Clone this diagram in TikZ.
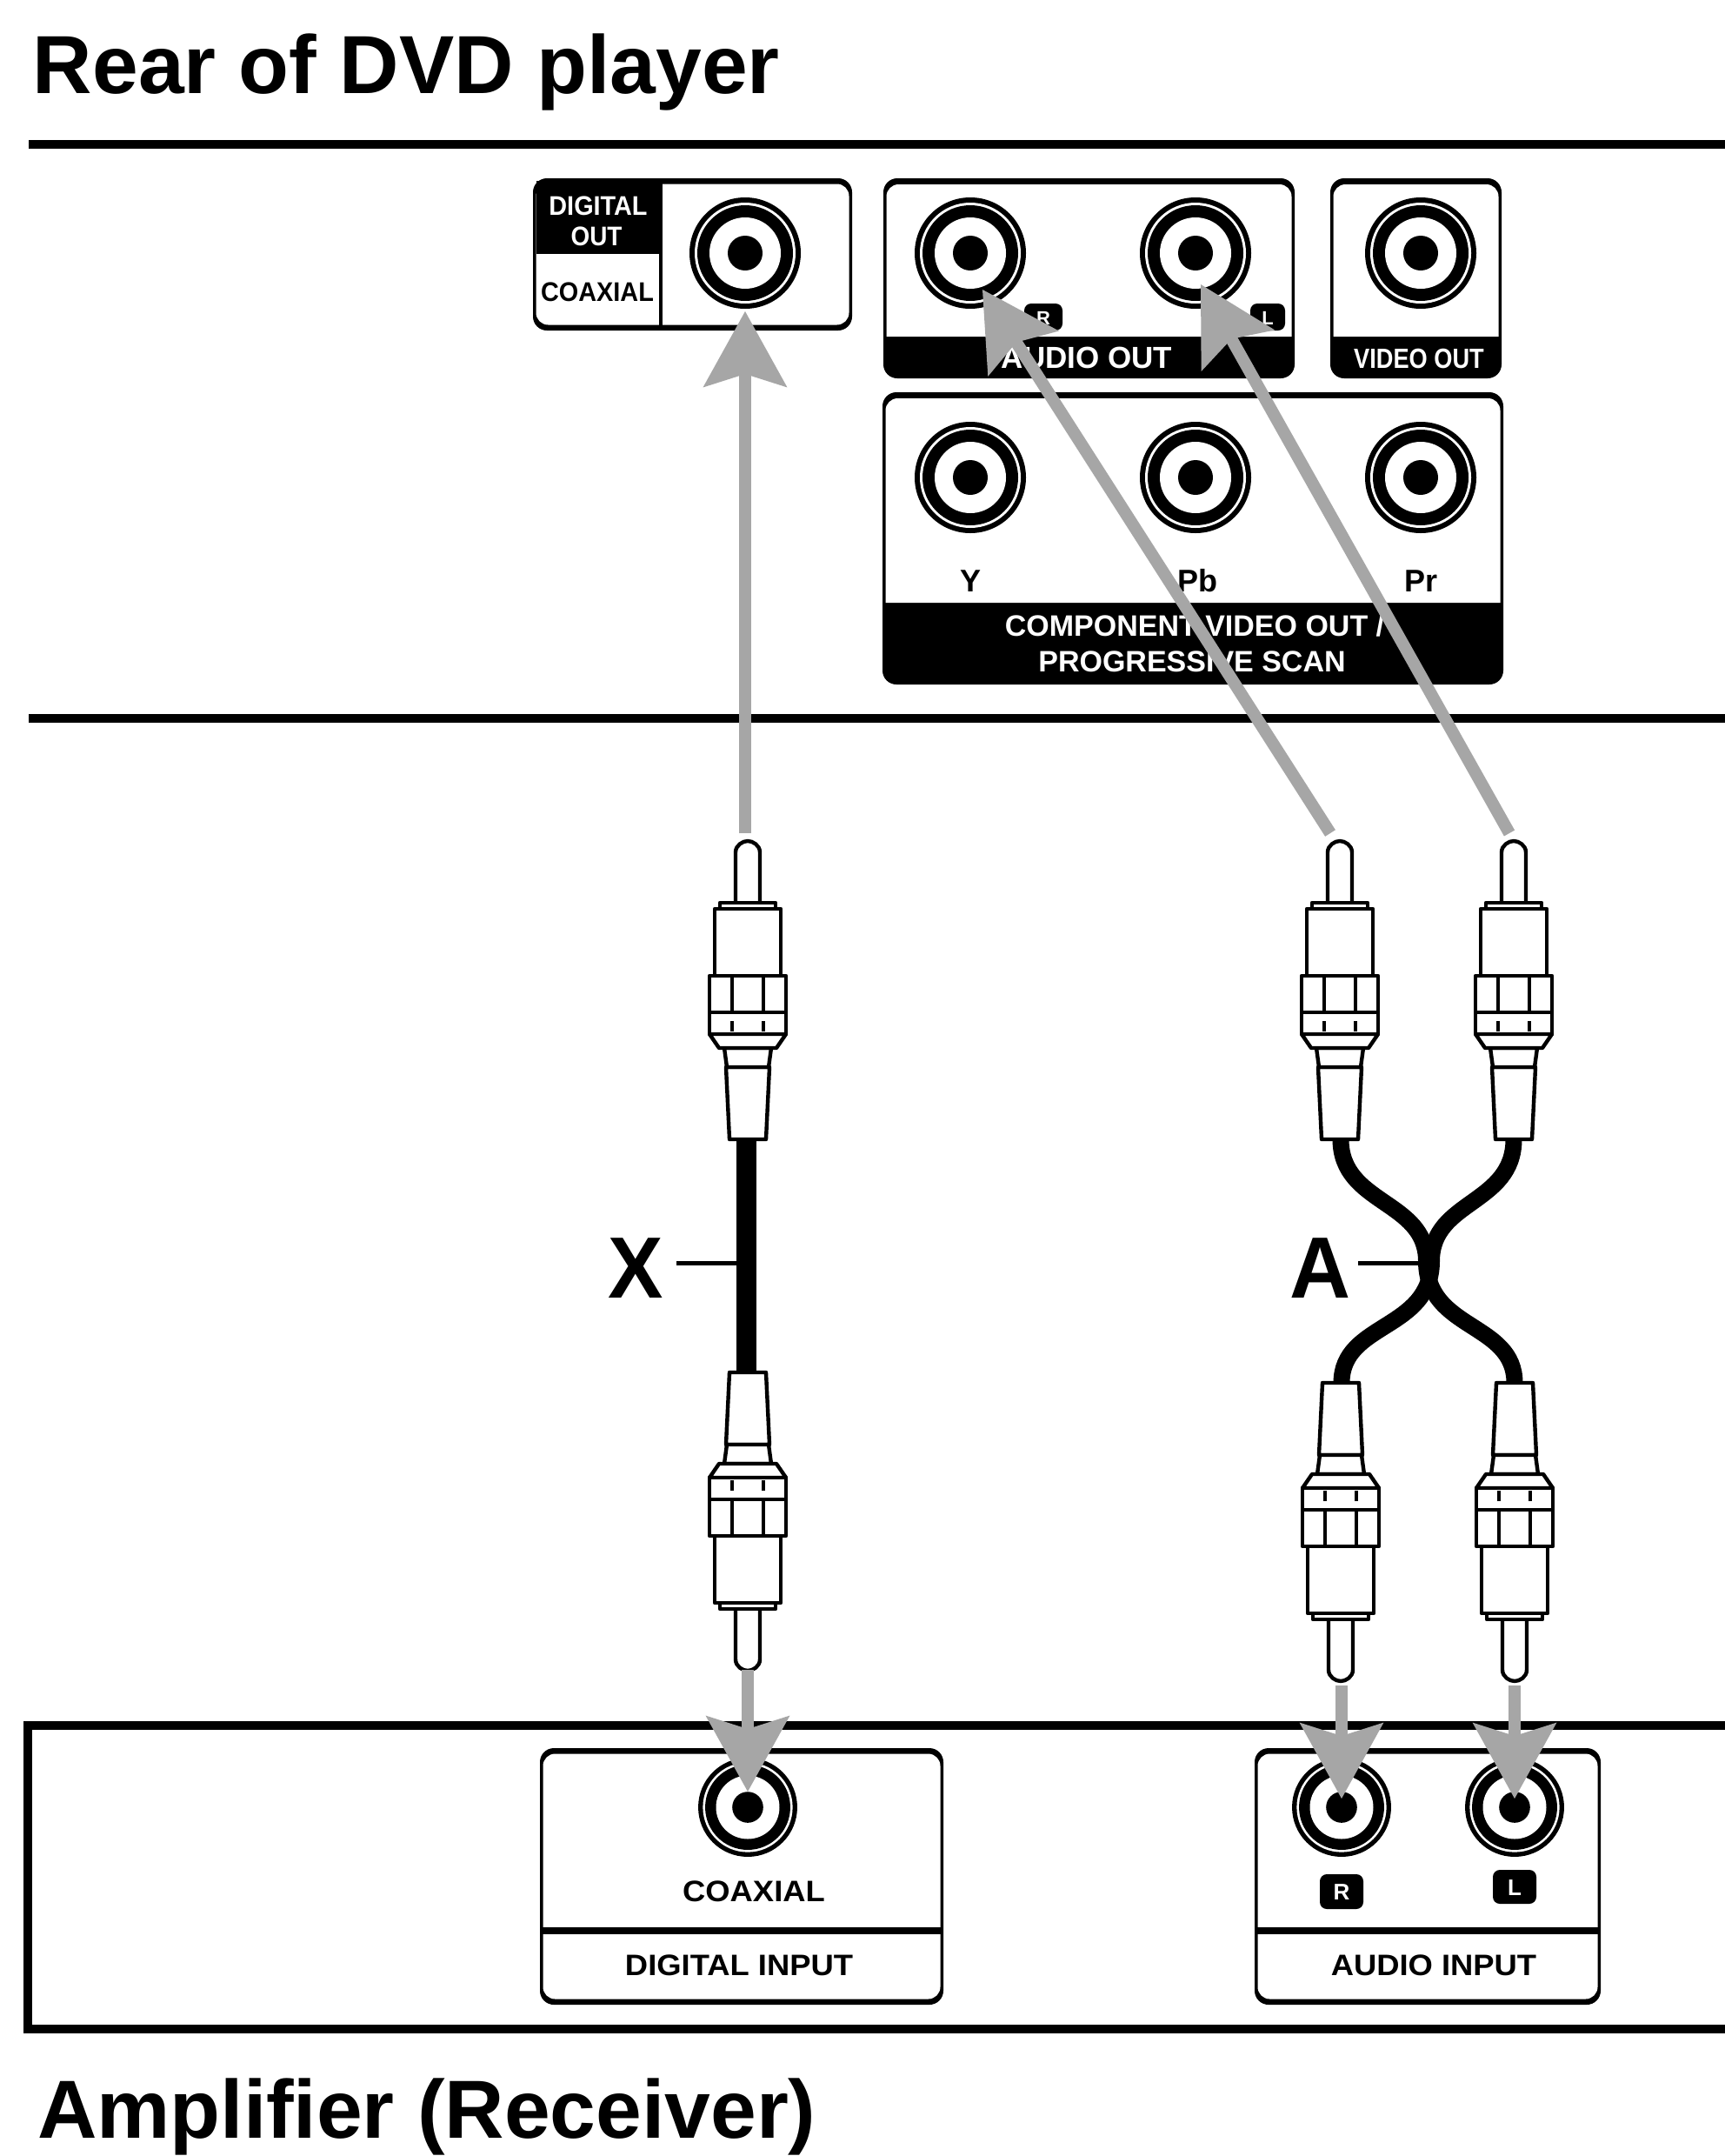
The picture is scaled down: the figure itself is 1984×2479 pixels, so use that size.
\documentclass[tikz,border=0pt]{standalone}
\usepackage{fontspec}
\usetikzlibrary{calc}
\setmainfont{Liberation Sans}
\newcommand\pxb[1]{\fontsize{#1}{#1}\bfseries\selectfont}
\definecolor{arrowgray}{HTML}{A6A6A6}
\tikzset{
  rulebar/.style={line width=5pt},
  cablex/.style={line width=11.5pt},
  cablea/.style={line width=9.5pt},
  leaderline/.style={line width=2.5pt},
  plugline/.style={line width=2.2pt,draw=black,fill=white,line join=round},
  shaftline/.style={line width=7pt,draw=arrowgray,shorten >=30pt},
  headfill/.style={fill=arrowgray},
  base/.style={anchor=base,inner sep=0pt,outer sep=0pt,transform shape},
  wtext/.style={base,text=white},
  btext/.style={base,text=black},
  badge/.style={fill=black,rounded corners=4pt},
  jackpic/.pic={
    \fill[black] (0,0) circle[radius=32pt];
    \fill[white] (0,0) circle[radius=29pt];
    \fill[black] (0,0) circle[radius=27.5pt];
    \fill[white] (0,0) circle[radius=20.5pt];
    \fill[black] (0,0) circle[radius=10pt];
  },
  plugpic/.pic={
    \path[plugline] (-14,-271) -- (-14,-330) .. controls (-14,-338) and (-6,-343) .. (0,-343)
      .. controls (6,-343) and (14,-338) .. (14,-330) -- (14,-271) -- cycle;
    \path[plugline] (-25,-83) -- (25,-83) -- (21,0) -- (-21,0) -- cycle;
    \path[plugline] (-27,-105) -- (27,-105) -- (24,-83) -- (-24,-83) -- cycle;
    \path[plugline] (-44,-121) -- (44,-121) -- (33,-105) -- (-33,-105) -- cycle;
    \path[plugline] (-44,-146) rectangle (44,-121);
    \draw[line width=1.8pt] (-18,-136) -- (-18,-124) (18,-136) -- (18,-124);
    \path[plugline] (-44,-188) rectangle (44,-146);
    \draw[line width=1.8pt] (-18,-188) -- (-18,-146) (18,-188) -- (18,-146);
    \path[plugline] (-38,-265) rectangle (38,-188);
    \path[plugline] (-32,-272) rectangle (32,-265);
  }
}
% solid panel with a black band along its foot
\newcommand\bandpanel[5]{%
  \fill[black,rounded corners=8pt] (#1,#2) rectangle (#3,#4);
  \fill[white] (#1+3.5,#5) [rounded corners=7pt] -- (#1+3.5,#2+7) -- (#3-3.5,#2+7) [sharp corners] -- (#3-3.5,#5) -- cycle;}
% panel with no band
\newcommand\plainpanel[4]{%
  \fill[black,rounded corners=8pt] (#1,#2) rectangle (#3,#4);
  \fill[white,rounded corners=7pt] (#1+3.5,#2+6.5) rectangle (#3-3.5,#4-6.5);}
% grey connector and its notched head
\newcommand\grayarrow[2]{%
  \draw[shaftline] (#1) -- (#2);
  \fill[headfill] (#2) -- ($(#2)!50pt!29:(#1)$) -- ($(#2)!36pt!(#1)$) -- ($(#2)!50pt!-29:(#1)$) -- cycle;}
\begin{document}
\begin{tikzpicture}[x=0.5pt,y=-0.5pt]
\useasboundingbox (0,0) rectangle (1984,2479);
\fill[white] (0,0) rectangle (1984,2479);

% titles
\node[btext,anchor=base west] (titleRear) at (38,107) {\pxb{47.4pt}Rear of DVD player};
\node[btext,anchor=base west] (titleAmp) at (43,2458) {\pxb{47.4pt}Amplifier (Receiver)};

% rules and amplifier frame
\draw[rulebar] (33,166) -- (1984,166);
\draw[rulebar] (33,826) -- (1984,826);
\draw[rulebar,line join=miter] (1984,1984) -- (32,1984) -- (32,2333) -- (1984,2333);

% DIGITAL OUT panel
\plainpanel{613}{205}{980}{380}
\fill[black] (617,208) -- (760,208) -- (760,292) -- (617,292) -- cycle;
\draw[line width=1.6pt] (760,208) -- (760,376);
\node[wtext,xscale=.93] (tDigital) at (688,247) {\pxb{15.5pt}DIGITAL};
\node[wtext,xscale=.9] (tOut) at (686,282) {\pxb{15.5pt}OUT};
\node[btext,xscale=.93] (tCoax) at (687,346) {\pxb{15.5pt}COAXIAL};

% AUDIO OUT, VIDEO OUT, COMPONENT panels
\bandpanel{1016}{205}{1489}{435}{387}
\bandpanel{1530}{205}{1727}{435}{387}
\bandpanel{1015}{451}{1729}{787}{693}
\node[wtext] (tAudioOut) at (1250,423) {\pxb{17.5pt}AUDIO OUT};
\node[wtext,xscale=.85] (tVideoOut) at (1632,423) {\pxb{16pt}VIDEO OUT};
\node[wtext] (tComp1) at (1374,731) {\pxb{17pt}COMPONENT VIDEO OUT /};
\node[wtext] (tComp2) at (1371,772) {\pxb{17pt}PROGRESSIVE SCAN};
\node[btext] (tY) at (1116,680) {\pxb{18pt}Y};
\node[btext] (tPb) at (1377,680) {\pxb{18pt}Pb};
\node[btext] (tPr) at (1634,680) {\pxb{18pt}Pr};
\fill[badge] (1178,349) rectangle (1222,380);
\node[wtext] (tRa) at (1200,373) {\pxb{11pt}R};
\fill[badge] (1438,349) rectangle (1478,380);
\node[wtext] (tLa) at (1458,373) {\pxb{11pt}L};

% amplifier panels
\plainpanel{621}{2010}{1085}{2305}
\fill[black] (621,2216) rectangle (1085,2224);
\plainpanel{1443}{2010}{1841}{2305}
\fill[black] (1443,2216) rectangle (1841,2224);
\node[btext,xscale=1.07] (tCoax2) at (867,2186) {\pxb{17pt}COAXIAL};
\node[btext,xscale=1.07] (tDigIn) at (850,2271) {\pxb{17pt}DIGITAL INPUT};
\node[btext,xscale=1.07] (tAudIn) at (1649,2271) {\pxb{17pt}AUDIO INPUT};
\fill[badge] (1518,2155) rectangle (1568,2195);
\node[wtext] (tRb) at (1543,2184) {\pxb{13pt}R};
\fill[badge] (1717,2150) rectangle (1767,2189);
\node[wtext] (tLb) at (1742,2179) {\pxb{13pt}L};

% jacks
\coordinate (jDO) at (857,291);
\coordinate (jAR) at (1116,291);
\coordinate (jAL) at (1375,291);
\coordinate (jV) at (1634,291);
\coordinate (jY) at (1116,549);
\coordinate (jPb) at (1375,549);
\coordinate (jPr) at (1634,549);
\coordinate (jDI) at (860,2078);
\coordinate (jIR) at (1543,2078);
\coordinate (jIL) at (1742,2078);
\foreach \j in {jDO,jAR,jAL,jV,jY,jPb,jPr} {\pic at (\j) {jackpic};}
\foreach \j in {jDI,jIR,jIL} {\pic[scale=.89] at (\j) {jackpic};}

% cables
\coordinate (cXt) at (858,1310);
\coordinate (cXb) at (858,1578);
\coordinate (cAtl) at (1542,1310);
\coordinate (cAtr) at (1741,1310);
\coordinate (cAbl) at (1543,1590);
\coordinate (cAbr) at (1742,1590);
\draw[cablex] (cXt) -- (cXb);
\draw[cablea] (cAtl) .. controls (1542,1385) and (1640.5,1380) .. (1640.5,1450)
  .. controls (1640.5,1530) and (1742,1520) .. (cAbr);
\draw[cablea] (cAtr) .. controls (1741,1385) and (1646.5,1380) .. (1646.5,1450)
  .. controls (1646.5,1530) and (1543,1520) .. (cAbl);

% plugs
\pic at (860,1310) {plugpic};
\pic[yscale=-1] at (860,1578) {plugpic};
\pic at (1541,1310) {plugpic};
\pic at (1741,1310) {plugpic};
\pic[yscale=-1] at (1542,1590) {plugpic};
\pic[yscale=-1] at (1742,1590) {plugpic};

% cable labels
\node[btext,xscale=.95] (lX) at (731,1492) {\pxb{50pt}X};
\node[btext,xscale=.97] (lA) at (1519,1492) {\pxb{50pt}A};
\coordinate (lXs) at (778,1452);
\coordinate (lXe) at (850,1452);
\coordinate (lAs) at (1562,1452);
\coordinate (lAe) at (1634,1452);
\draw[leaderline] (lXs) -- (lXe);
\draw[leaderline] (lAs) -- (lAe);

% grey arrows
\coordinate (s1) at (857,958);
\coordinate (t1) at (857,358);
\coordinate (s2) at (1530,958);
\coordinate (t2) at (1130,333);
\coordinate (s3) at (1736,958);
\coordinate (t3) at (1381,327);
\coordinate (s4) at (860,1920);
\coordinate (t4) at (860,2060);
\coordinate (s5) at (1543,1938);
\coordinate (t5) at (1543,2068);
\coordinate (s6) at (1742,1938);
\coordinate (t6) at (1742,2068);
\grayarrow{s1}{t1}
\grayarrow{s2}{t2}
\grayarrow{s3}{t3}
\grayarrow{s4}{t4}
\grayarrow{s5}{t5}
\grayarrow{s6}{t6}
\end{tikzpicture}
\end{document}
